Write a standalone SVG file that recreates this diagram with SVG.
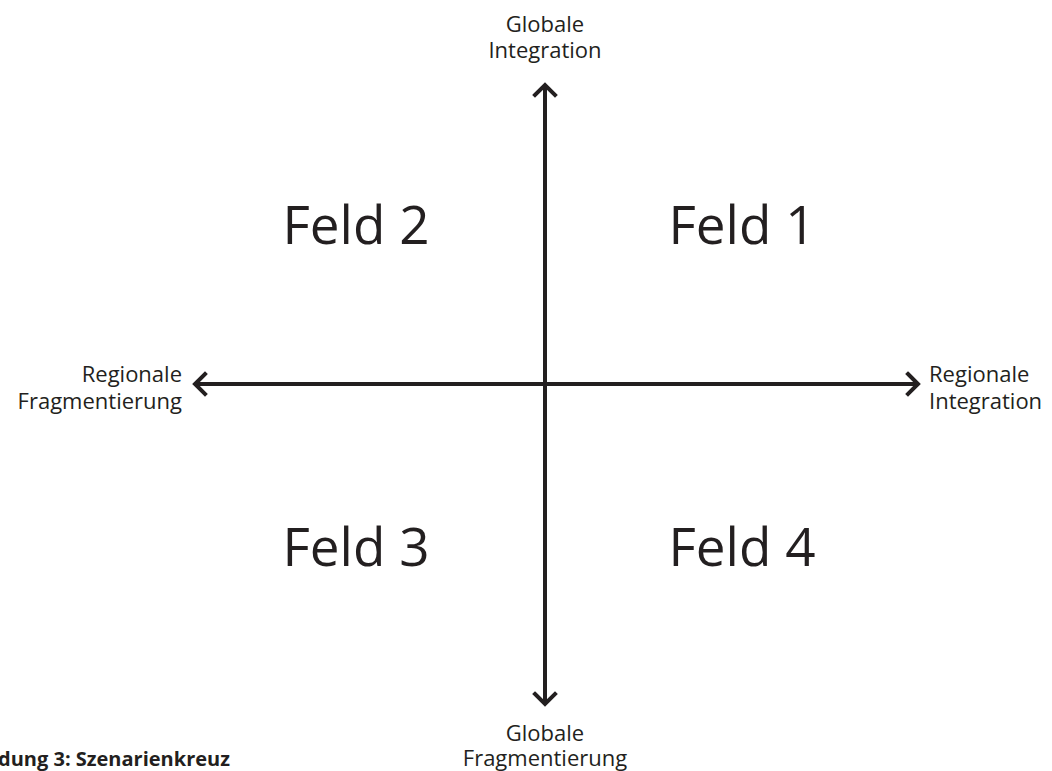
<svg xmlns="http://www.w3.org/2000/svg" width="1052" height="771" viewBox="0 0 1052 771">
<style>
.lbl{font-family:"Open Sans","Noto Sans","Liberation Sans",sans-serif;font-size:22px;fill:#231f20}
.feld{font-family:"Open Sans","Noto Sans","Liberation Sans",sans-serif;font-size:53px;fill:#231f20}
.cap{font-family:"Open Sans","Noto Sans","Liberation Sans",sans-serif;font-size:20px;font-weight:bold;fill:#231f20}
.ax{stroke:#231f20;stroke-width:4;fill:none}
.hd{stroke:#231f20;stroke-width:4;fill:none;stroke-linecap:square;stroke-linejoin:miter}
</style>
<rect width="1052" height="771" fill="#fff"/>
<g id="connectors">
<line class="ax" x1="545" y1="86" x2="545" y2="704"/>
<line class="ax" x1="196" y1="384" x2="917" y2="384"/>
<polyline class="hd" points="535,95 545,85 555,95"/>
<polyline class="hd" points="535,694 545,704 555,694"/>
<polyline class="hd" points="205,374 195,384 205,394"/>
<polyline class="hd" points="908,374 918,384 908,394"/>
</g>
<g id="top"><text class="lbl" text-anchor="middle" x="545" y="32">Globale</text><text class="lbl" text-anchor="middle" x="545" y="58">Integration</text></g>
<g id="bottom"><text class="lbl" text-anchor="middle" x="545" y="741">Globale</text><text class="lbl" text-anchor="middle" x="545" y="766">Fragmentierung</text></g>
<g id="left"><text class="lbl" text-anchor="end" x="182" y="382">Regionale</text><text class="lbl" text-anchor="end" x="182" y="409">Fragmentierung</text></g>
<g id="right"><text class="lbl" x="929" y="382">Regionale</text><text class="lbl" x="929" y="409">Integration</text></g>
<g id="feld1"><text class="feld" text-anchor="middle" x="742" y="244">Feld 1</text></g>
<g id="feld2"><text class="feld" text-anchor="middle" x="356" y="244">Feld 2</text></g>
<g id="feld3"><text class="feld" text-anchor="middle" x="356" y="566">Feld 3</text></g>
<g id="feld4"><text class="feld" text-anchor="middle" x="742" y="566">Feld 4</text></g>
<g id="caption"><text class="cap" x="-2" y="766">dung 3: Szenarienkreuz</text></g>
</svg>
